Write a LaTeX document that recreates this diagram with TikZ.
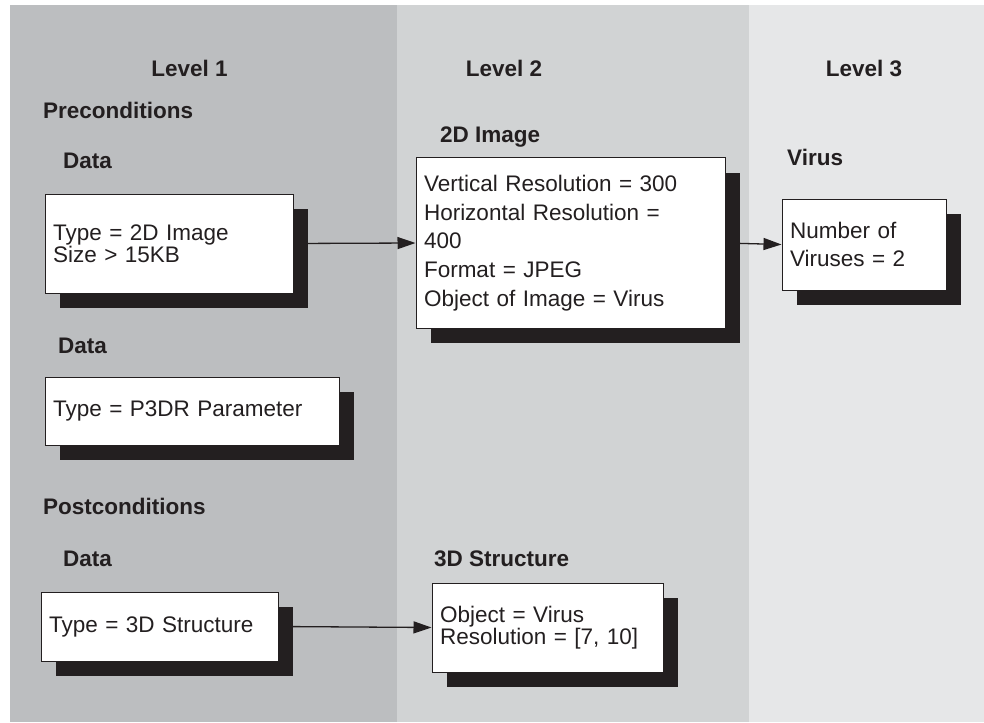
\documentclass[tikz,border=0pt]{standalone}
\usepackage{fontspec}
\setmainfont{Liberation Sans}
\usetikzlibrary{arrows.meta,shadows}
\definecolor{levelone}{HTML}{BCBEC0}
\definecolor{leveltwo}{HTML}{D1D3D4}
\definecolor{levelthree}{HTML}{E6E7E8}
\definecolor{ink}{HTML}{231F20}
\tikzset{
  heading/.style={font=\fontsize{22.5}{26}\selectfont\bfseries, text=ink, inner sep=0pt, anchor=base west},
  databox/.style={draw=ink, line width=1pt, fill=white, text=ink, align=left,
    inner xsep=8pt, inner ysep=0pt,
    drop shadow={shadow xshift=15pt, shadow yshift=-15pt, fill=ink, opacity=1}},
  tight/.style={font=\fontsize{22.5}{20.5}\selectfont},
  loose/.style={font=\fontsize{22.5}{28.7}\selectfont},
  link/.style={draw=ink, line width=1.3pt, -{Triangle[length=18pt,width=12pt]}},
}

\begin{document}
\begin{tikzpicture}[x=1pt, y=-1pt]
\useasboundingbox (0,0) rectangle (984,722);
% Column backgrounds
\fill[levelone] (10,5) rectangle (397,722);
\fill[leveltwo] (397,5) rectangle (749,722);
\fill[levelthree] (749,5) rectangle (984,722);
% Level titles
\node[heading, anchor=base] (lvlone) at (189.5,77) {Level 1};
\node[heading, anchor=base] (lvltwo) at (504,77) {Level 2};
\node[heading, anchor=base] (lvlthree) at (864,77) {Level 3};
% Level 1: preconditions
\node[heading] (pre) at (43,119) {Preconditions};
\node[heading] (dataone) at (63,168) {Data};
\node[databox, tight, text width=232pt, minimum height=99pt] (imgdata) at (169,243.5)
  {Type = 2D Image\\Size > 15KB};
\node[heading] (datatwo) at (58,353) {Data};
\node[databox, tight, text width=278pt, minimum height=68pt] (paramdata) at (192,411)
  {Type = P3DR Parameter};
% Level 1: postconditions
\node[heading] (post) at (43,514) {Postconditions};
\node[heading] (datathree) at (63,566) {Data};
\node[databox, tight, text width=221pt, minimum height=69pt] (structdata) at (159.5,626.5)
  {Type = 3D Structure};
% Level 2
\node[heading] (imgtitle) at (440,143) {2D Image};
\node[databox, loose, text width=293pt, minimum height=170pt] (imgbox) at (570.5,243)
  {Vertical Resolution = 300\\Horizontal Resolution =\\400\\Format = JPEG\\Object of Image = Virus};
\node[heading] (structtitle) at (434,566) {3D Structure};
\node[databox, tight, text width=215pt, minimum height=89pt] (structbox) at (547.5,627.5)
  {Object = Virus\\Resolution = [7, 10]};
% Level 3
\node[heading] (virustitle) at (787,166) {Virus};
\node[databox, loose, text width=148pt, minimum height=91pt] (virusbox) at (864,244.5)
  {Number of\\Viruses = 2};
% Refinement links
\draw[link] (imgdata.east) -- (imgbox.west);
\draw[link] (imgbox.east) -- (virusbox.west);
\draw[link] (structdata.east) -- (structbox.west);
\end{tikzpicture}
\end{document}
